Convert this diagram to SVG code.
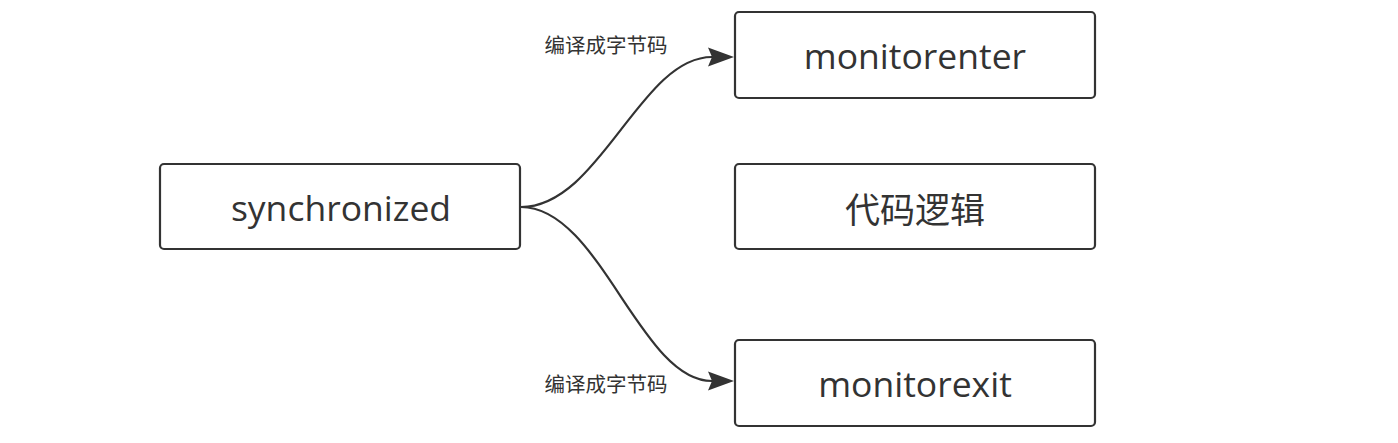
<svg xmlns="http://www.w3.org/2000/svg" width="1398" height="443" viewBox="0 0 1398 443">
<style>
.box{fill:#fff;stroke:#333;stroke-width:2.2}
.t{font-family:"Open Sans","Noto Sans CJK SC",sans-serif;font-size:35.5px;fill:#333;text-anchor:middle;dominant-baseline:central}
.c{font-family:"Noto Sans CJK SC",sans-serif;font-size:35px;fill:#333;text-anchor:middle;dominant-baseline:central}
.lbl{font-family:"Noto Sans CJK SC",sans-serif;font-size:20.5px;fill:#333;text-anchor:middle;dominant-baseline:central}
.edge{fill:none;stroke:#333;stroke-width:2.2}
.head{fill:#333}
</style>
<rect width="1398" height="443" fill="#fff"/>
<g id="connectors">
<path class="edge" d="M521 207 C600 207 640 57 712 57"/>
<polygon class="head" points="734,57 708,47.5 712,57 708,66.5"/>
<path class="edge" d="M521 207 C600 207 640 381 712 381"/>
<polygon class="head" points="734,381 708,371.5 712,381 708,390.5"/>
<text class="lbl" x="606" y="44">编译成字节码</text>
<text class="lbl" x="606" y="383">编译成字节码</text>
</g>
<g id="synchronized">
<rect class="box" x="160" y="164" width="360" height="85" rx="4"/>
<text class="t" x="341" y="207">synchronized</text>
</g>
<g id="monitorenter">
<rect class="box" x="735" y="12" width="360" height="86" rx="4"/>
<text class="t" x="915" y="55">monitorenter</text>
</g>
<g id="logic">
<rect class="box" x="735" y="164" width="360" height="85" rx="4"/>
<text class="c" x="915" y="207">代码逻辑</text>
</g>
<g id="monitorexit">
<rect class="box" x="735" y="340" width="360" height="86" rx="4"/>
<text class="t" x="915" y="383">monitorexit</text>
</g>
</svg>
